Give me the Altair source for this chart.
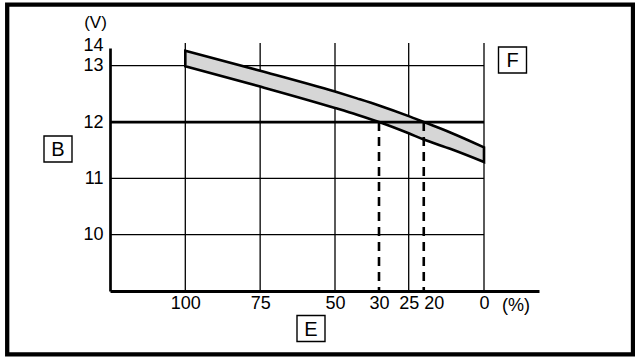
import altair as alt
import pandas as pd

# ---- data ----
pct = [100, 75, 50, 40, 30, 25, 20, 11, 0]
v_upper = [13.84, 12.91, 12.54, 12.42, 12.295, 12.105, 12.0, 11.81, 11.55]
v_lower = [12.99, 12.63, 12.25, 12.13, 12.0, 11.80, 11.69, 11.52, 11.29]

x_ticks = [100, 75, 50, 30, 25, 20, 0]
y_ticks = [10, 11, 12, 13, 14]
grid_x = [100, 75, 50, 25, 0]
grid_y_thin = [10, 11, 13]
grid_y_thick = [12]
cut_pct = [30, 20]
cut_v = 12
v_floor = 9

FONT = "Liberation Sans"
FS = 18
W, H = 429, 243
X_LEFT, X_RIGHT = 125.1, -18.3

x_scale = alt.Scale(domain=[X_LEFT, 100, 50, 30, 25, 0, X_RIGHT],
                    range=[0, 75.3, 225, 269, 298.7, 374, 429],
                    nice=False, zero=False)
y_scale = alt.Scale(domain=[9, 13, 14], range=[243, 17.7, 0], nice=False, zero=False)

band_df = pd.DataFrame({"pct": pct, "upper": v_upper, "lower": v_lower})
hthin_df = pd.DataFrame({"pct": [X_LEFT] * len(grid_y_thin), "xe": [0] * len(grid_y_thin), "upper": grid_y_thin})
hthick_df = pd.DataFrame({"pct": [X_LEFT] * len(grid_y_thick), "xe": [0] * len(grid_y_thick), "upper": grid_y_thick})
vgrid_df = pd.DataFrame({"pct": grid_x})
cut_df = pd.DataFrame({"pct": cut_pct, "upper": [cut_v] * len(cut_pct), "v0": [v_floor] * len(cut_pct)})

X_AXIS = alt.Axis(values=x_ticks, title=None, domainWidth=3, domainColor="black",
                  labelPadding=3, labelOverlap=False, labelFlush=False, ticks=False, grid=False,
                  labelAlign={"condition": {"test": "datum.value == 20", "value": "left"}, "value": "center"})
Y_AXIS = alt.Axis(values=y_ticks, title="(V)", titleAngle=0, titleX=-15, titleY=-26,
                  titleFontSize=17, titleFontWeight="normal", titleAlign="center",
                  titleBaseline="middle", titleFont=FONT, titleColor="black",
                  domainWidth=2.7, domainColor="black", labelPadding=7,
                  labelOverlap=False, ticks=False, grid=False,
                  labelOffset={"condition": {"test": "datum.value == 14", "value": -3}, "value": 0})

vgrid = alt.Chart(vgrid_df).mark_rule(color="black", strokeWidth=1.3).encode(
    x=alt.X("pct:Q", scale=x_scale, axis=X_AXIS),
    y=alt.value(-5), y2=alt.value(H),
)
hthin = alt.Chart(hthin_df).mark_rule(color="black", strokeWidth=1.3).encode(
    y=alt.Y("upper:Q", scale=y_scale, axis=Y_AXIS),
    x=alt.X("pct:Q", scale=x_scale), x2="xe:Q",
)
band = alt.Chart(band_df).mark_area(
    fill="#d6d6d6", stroke="black", strokeWidth=2.6, interpolate="monotone"
).encode(
    x=alt.X("pct:Q", scale=x_scale),
    y=alt.Y("upper:Q", scale=y_scale),
    y2="lower:Q",
)
hthick = alt.Chart(hthick_df).mark_rule(color="black", strokeWidth=2.7).encode(
    y=alt.Y("upper:Q", scale=y_scale),
    x=alt.X("pct:Q", scale=x_scale), x2="xe:Q",
)
cuts = alt.Chart(cut_df).mark_rule(color="black", strokeWidth=2.6, strokeDash=[9, 6]).encode(
    x=alt.X("pct:Q", scale=x_scale),
    y=alt.Y("upper:Q", scale=y_scale), y2="v0:Q",
)


def boxed(letter, cx, cy, w=28, h=26):
    base = alt.Chart(pd.DataFrame({"t": [letter]}))
    box = base.mark_rect(fill="white", stroke="black", strokeWidth=1.4).encode(
        x=alt.value(cx - w / 2), x2=alt.value(cx + w / 2),
        y=alt.value(cy - h / 2), y2=alt.value(cy + h / 2),
    )
    txt = base.mark_text(font=FONT, fontSize=20, color="black", align="center",
                         baseline="middle", dy=1).encode(
        text="t:N", x=alt.value(cx), y=alt.value(cy),
    )
    return box + txt


pct_unit = alt.Chart(pd.DataFrame({"t": ["(%)"]})).mark_text(
    font=FONT, fontSize=FS, color="black", align="center", baseline="middle"
).encode(text="t:N", x=alt.value(406), y=alt.value(258))

border = alt.Chart(pd.DataFrame({"a": [0]})).mark_rect(
    fillOpacity=0, fill="white", stroke="black", strokeWidth=4.3
).encode(
    x=alt.value(-102.8), x2=alt.value(523), y=alt.value(-43.3), y2=alt.value(306.3)
)

chart = alt.layer(
    vgrid, hthin, band, hthick, cuts,
    boxed("B", -52, 101), boxed("F", 402.5, 12), boxed("E", 201, 280.5),
    pct_unit, border,
).properties(
    width=W, height=H,
    autosize=alt.AutoSizeParams(type="none"),
    padding={"left": 110, "top": 48, "right": 96, "bottom": 66},
).configure_axis(
    labelFont=FONT, labelFontSize=FS, labelColor="black",
).configure_view(stroke=None)

chart.save("out.html", embed_options={"renderer": "svg", "actions": False})
